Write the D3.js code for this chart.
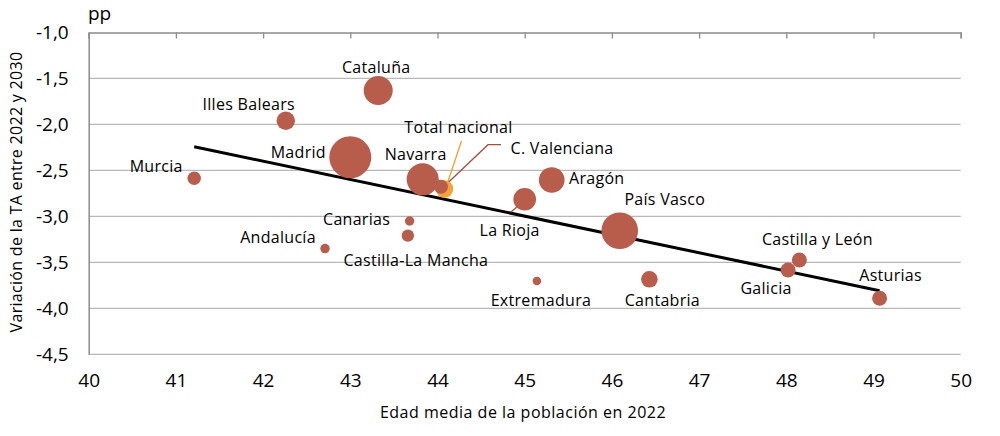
<!DOCTYPE html>
<html><head><meta charset="utf-8">
<script src="https://cdn.jsdelivr.net/npm/d3@7"></script>
<style>
html,body{margin:0;padding:0;background:#fff;}
svg{display:block;font-family:"Open Sans","Noto Sans",sans-serif;}
</style></head>
<body>
<svg id="chart" width="1000" height="436"></svg>
<script>
// ---- data ----
const regions = ["Murcia","Illes Balears","Cataluña","Madrid","Navarra","Total nacional","C. Valenciana","Canarias","Castilla-La Mancha","Andalucía","La Rioja","Aragón","País Vasco","Extremadura","Cantabria","Galicia","Castilla y León","Asturias"];
const edadMedia = [41.21,42.26,43.32,43.00,43.83,44.08,44.04,43.68,43.66,42.71,45.00,45.31,46.09,45.14,46.43,48.02,48.15,49.07];
const variacionTA = [-2.586,-1.959,-1.630,-2.357,-2.597,-2.702,-2.677,-3.050,-3.210,-3.350,-2.814,-2.604,-3.156,-3.703,-3.684,-3.583,-3.474,-3.891];
const bubbleSize = [4.5,8.5,21,44,25.6,7.6,4.9,2.2,3.8,2.2,12.8,16.4,33.5,1.8,6.9,5.6,5.6,5.6];
const trendX = [41.21,49.07];
const trendY = [-2.242,-3.808];
const xTicks = [40,41,42,43,44,45,46,47,48,49,50];
const yTicks = [-1.0,-1.5,-2.0,-2.5,-3.0,-3.5,-4.0,-4.5];

// ---- layout (label offsets relative to bubble centre) ----
const labelOffset = {
  "Cataluña":[-2,-23],"Illes Balears":[-37,-17],"Madrid":[-52,-5],"Navarra":[-7,-25],
  "Murcia":[-38,-12],"Total nacional":[14,-62],"C. Valenciana":[121,-39],"Aragón":[45,-2],
  "La Rioja":[-15,31],"País Vasco":[45,-32],"Canarias":[-53,-2],"Castilla-La Mancha":[8,24],
  "Andalucía":[-47,-12],"Extremadura":[4,19],"Cantabria":[13,21],"Castilla y León":[18,-21],
  "Galicia":[-22,18],"Asturias":[11,-23]
};

const svg = d3.select("#chart");
const x = d3.scaleLinear().domain([40,50]).range([88.7,960.7]);
const y = d3.scaleLinear().domain([-1,-4.5]).range([32.5,354.3]);
const r = d3.scaleSqrt().domain([0,44]).range([0,21]);
const fmt = v => d3.format(".1f")(v).replace(".",",").replace("−","-");

// gridlines
svg.append("g").selectAll("line").data(yTicks.slice(1)).join("line")
  .attr("x1",x(40)).attr("x2",x(50)).attr("y1",d=>y(d)).attr("y2",d=>y(d))
  .attr("stroke","#b8b8b8").attr("stroke-width",1.3);

// top axis (x axis crossing at -1.0) with inward ticks
const topAxis = svg.append("g").attr("transform",`translate(0,${y(-1)})`)
  .call(d3.axisBottom(x).tickValues(xTicks).tickSize(6).tickFormat(""));
topAxis.select(".domain").attr("stroke","#8c8c8c").attr("stroke-width",1.5);
topAxis.selectAll(".tick line").attr("stroke","#8c8c8c").attr("stroke-width",1.3);

// left axis
const leftAxis = svg.append("g").attr("transform",`translate(${x(40)},0)`)
  .call(d3.axisLeft(y).tickValues(yTicks).tickSize(0).tickPadding(20).tickFormat(fmt));
leftAxis.select(".domain").attr("stroke","#8c8c8c").attr("stroke-width",1.5);
leftAxis.selectAll("text").attr("font-size",19).attr("fill","#000")
  .attr("font-family","'Open Sans',sans-serif");

// x tick labels at bottom
const bottomAxis = svg.append("g").attr("transform",`translate(0,${y(-4.5)})`)
  .call(d3.axisBottom(x).tickValues(xTicks).tickSize(0).tickPadding(19).tickFormat(d=>d));
bottomAxis.select(".domain").remove();
bottomAxis.selectAll("text").attr("font-size",19).attr("fill","#000")
  .attr("font-family","'Open Sans',sans-serif");

// trend line
svg.append("path").datum(trendX.map((v,i)=>[v,trendY[i]]))
  .attr("d",d3.line().x(d=>x(d[0])).y(d=>y(d[1])))
  .attr("stroke","#000").attr("stroke-width",3).attr("fill","none");

const pts = regions.map((n,i)=>({name:n,x:edadMedia[i],y:variacionTA[i],s:bubbleSize[i]}));

// leader lines
const tn = pts.find(d=>d.name==="Total nacional");
const cv = pts.find(d=>d.name==="C. Valenciana");
const lr = pts.find(d=>d.name==="La Rioja");
svg.append("line").attr("x1",x(tn.x)+17).attr("y1",y(tn.y)-48)
  .attr("x2",x(tn.x)+3).attr("y2",y(tn.y)-6).attr("stroke","#f0a030").attr("stroke-width",1.3);
svg.append("polyline").attr("points",[[x(cv.x)+60,y(cv.y)-42],[x(cv.x)+47,y(cv.y)-42],[x(cv.x)+7,y(cv.y)-4]].map(p=>p.join(",")).join(" "))
  .attr("stroke","#a0503f").attr("stroke-width",1.3).attr("fill","none");
svg.append("line").attr("x1",x(lr.x)-14).attr("y1",y(lr.y)+13)
  .attr("x2",x(lr.x)-7).attr("y2",y(lr.y)+7).attr("stroke","#a0503f").attr("stroke-width",1.3);

// bubbles
const order = pts.slice().sort((a,b)=> (a.name==="Total nacional"?-1:b.name==="Total nacional"?1:0));
svg.append("g").selectAll("circle").data(order).join("circle")
  .attr("cx",d=>x(d.x)).attr("cy",d=>y(d.y)).attr("r",d=>r(d.s))
  .attr("fill",d=>d.name==="Total nacional"?"#f2a33a":"#b85c4c");

// labels
svg.append("g").selectAll("text").data(pts).join("text")
  .attr("x",d=>x(d.x)+labelOffset[d.name][0]).attr("y",d=>y(d.y)+labelOffset[d.name][1])
  .attr("text-anchor","middle").attr("dominant-baseline","central")
  .attr("font-size",16).attr("fill","#000").attr("letter-spacing",0.3)
  .text(d=>d.name);

// titles
svg.append("text").attr("x",88).attr("y",13).attr("dominant-baseline","central")
  .attr("font-size",19).attr("fill","#000").text("pp");
svg.append("text").attr("x",523).attr("y",412).attr("text-anchor","middle")
  .attr("dominant-baseline","central").attr("font-size",16).attr("fill","#000")
  .attr("letter-spacing",0.5).text("Edad media de la población en 2022");
svg.append("text").attr("transform","translate(16,192) rotate(-90)").attr("text-anchor","middle")
  .attr("dominant-baseline","central").attr("font-size",16).attr("fill","#000")
  .attr("letter-spacing",0.3).text("Variación de la TA entre 2022 y 2030");
</script>
</body></html>
